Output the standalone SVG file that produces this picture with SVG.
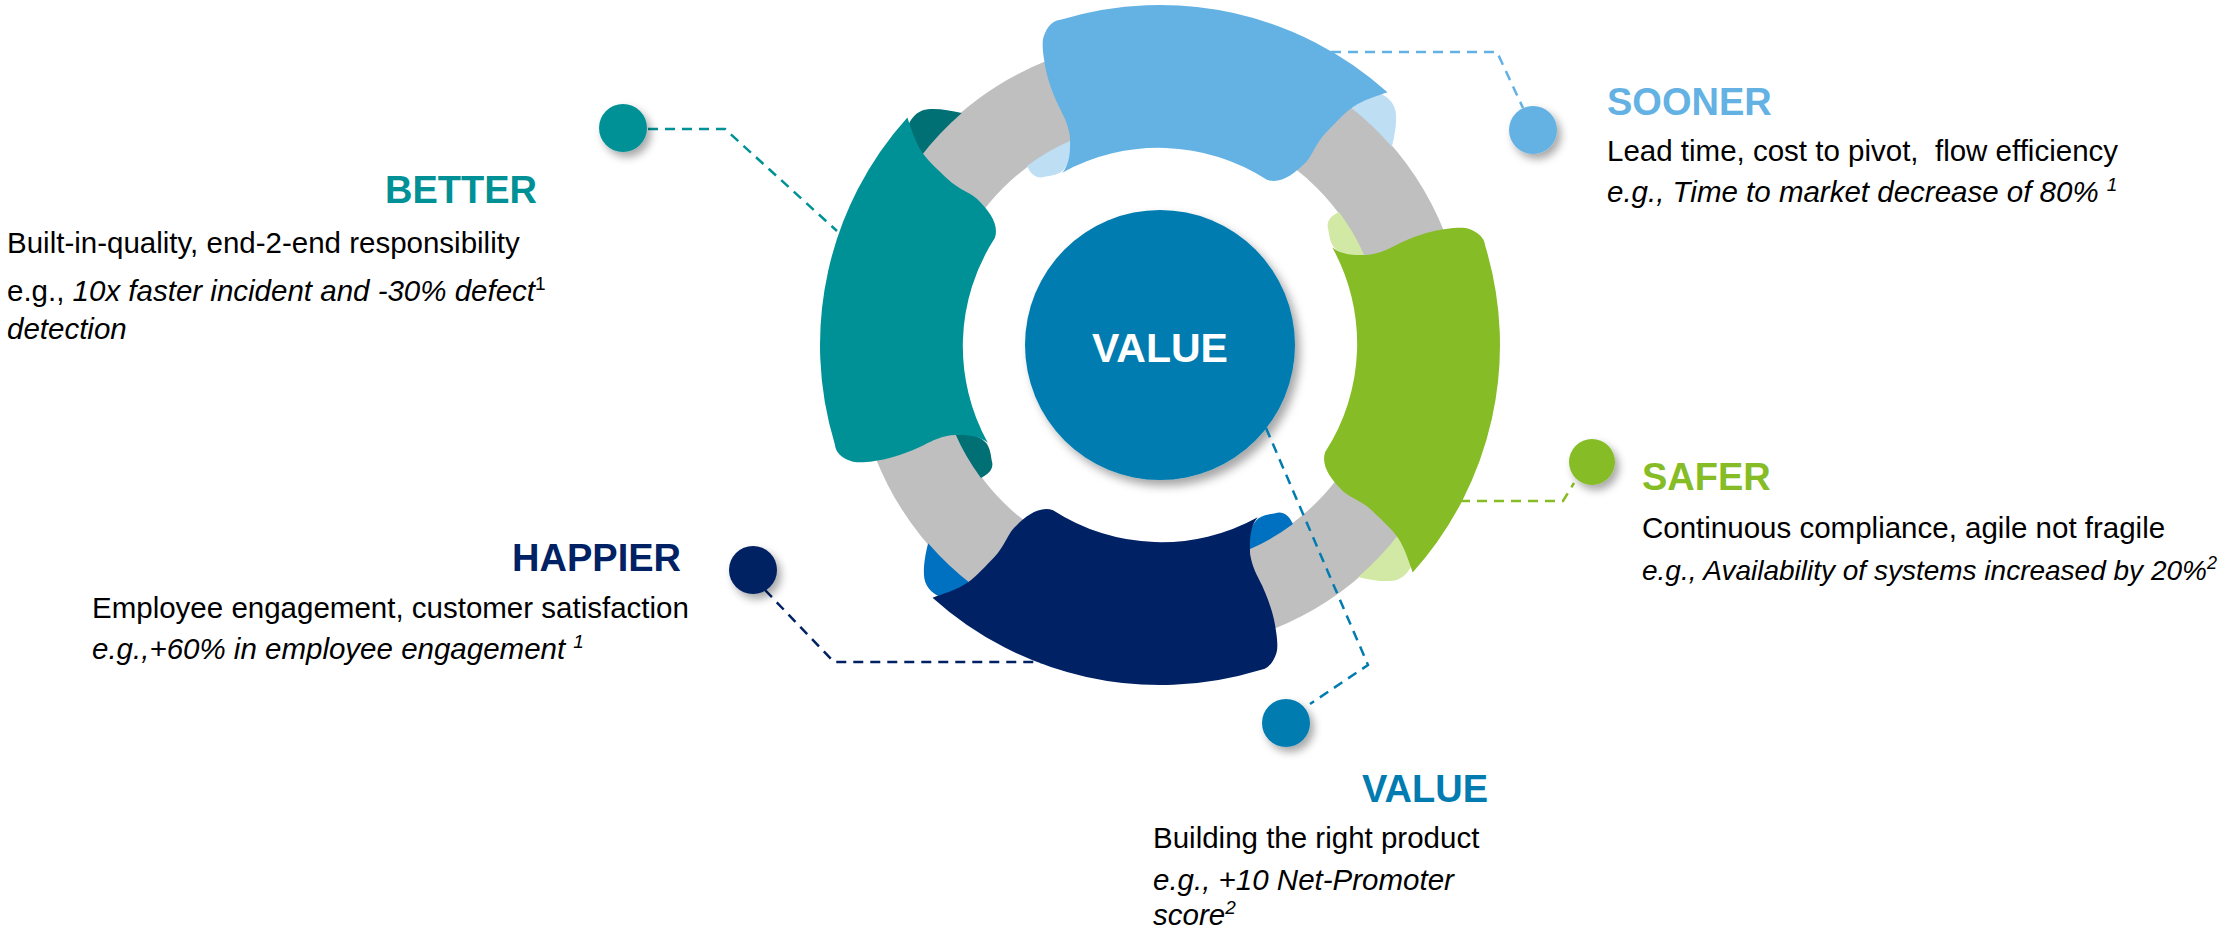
<svg xmlns="http://www.w3.org/2000/svg" width="2233" height="937" viewBox="0 0 2233 937">
<defs>
  <filter id="sh" x="-40%" y="-40%" width="190%" height="190%">
    <feDropShadow dx="4" dy="5" stdDeviation="4" flood-color="#000" flood-opacity="0.35"/>
  </filter>
  <filter id="shBig" x="-20%" y="-20%" width="145%" height="145%">
    <feDropShadow dx="5" dy="6" stdDeviation="5" flood-color="#000" flood-opacity="0.35"/>
  </filter>
  <path id="seg" d="M 310.6,-138.3 A 340 340 0 0 1 278.5,195 C 274,186 268,172 259.5,162.2 C 250,152 240,146 231.4,139.1 C 218,129 204,128 196,120 C 186,112 174,100 177,86 A 199 199 0 0 0 159,-118 C 168,-112 180,-112 196.9,-115 C 210,-119 216,-124 226,-130.5 C 245,-142 258,-147 269.1,-149.8 C 280,-153 288,-154 292,-153 C 302,-151 309,-146 310.6,-138.3 Z"/>
  <path id="lobeOut" d="M 261,157 C 270,162 276,170 277,180 C 278,190 272,200 264,204 C 256,208 240,208 225,206 A 305 305 0 0 0 261,157 Z"/>
  <path id="lobeIn" d="M 192.8,-112.3 A 223 223 0 0 0 161.5,-153.8 C 152,-148 150,-141 153,-135 C 155,-128 156,-124 160,-119 C 167,-112 178,-111 192.8,-112.3 Z"/>
</defs>
<style>
  text { font-family: "Liberation Sans", Arial, sans-serif; }
  .title { font-weight: bold; font-size: 38px; }
  .body { font-size: 29.5px; fill: #000; }
  .it { font-style: italic; }
  .conn { fill: none; stroke-width: 2.5; stroke-dasharray: 10 7; }
</style>
<rect width="2233" height="937" fill="#fff"/>

<g id="ring">
  <circle cx="1160" cy="345" r="264" fill="none" stroke="#BFBFBF" stroke-width="84"/>
</g>

<g id="seg-better" transform="translate(1160,345) rotate(187)">
  <use href="#lobeOut" fill="#007074"/>
  <use href="#lobeIn" fill="#007074"/>
  <use href="#seg" fill="#009196"/>
</g>
<g id="seg-sooner" transform="translate(1160,345) rotate(277)">
  <use href="#lobeOut" fill="#BEDEF4"/>
  <use href="#lobeIn" fill="#BEDEF4"/>
  <use href="#seg" fill="#63B2E3"/>
</g>
<g id="seg-safer" transform="translate(1160,345) rotate(7)">
  <use href="#lobeOut" fill="#D1E9A4"/>
  <use href="#lobeIn" fill="#D1E9A4"/>
  <use href="#seg" fill="#86BC25"/>
</g>
<g id="seg-happier" transform="translate(1160,345) rotate(97)">
  <use href="#lobeOut" fill="#0070C0"/>
  <use href="#lobeIn" fill="#0070C0"/>
  <use href="#seg" fill="#002164"/>
</g>

<g id="center-value">
  <circle cx="1160" cy="345" r="135" fill="#027CB0" filter="url(#shBig)"/>
  <text class="title" x="1160" y="362" text-anchor="middle" fill="#fff" style="font-size:41px">VALUE</text>
</g>

<g id="connectors">
  <polyline class="conn" stroke="#009196" points="648,129 725,129 837,231"/>
  <polyline class="conn" stroke="#63B2E3" points="1331,52 1497,52 1523,108"/>
  <polyline class="conn" stroke="#86BC25" points="1460,501 1563,501 1574,483"/>
  <polyline class="conn" stroke="#002164" points="765,590 834,662 1043,662"/>
  <polyline class="conn" stroke="#027CB0" points="1266,428 1368,665 1310,704"/>
</g>

<g id="label-better">
  <circle cx="623" cy="128" r="24" fill="#009196" filter="url(#sh)"/>
  <text class="title" x="537" y="203" text-anchor="end" fill="#009196">BETTER</text>
  <text class="body" x="7" y="253">Built-in-quality, end-2-end responsibility</text>
  <text class="body" x="7" y="301">e.g., <tspan class="it">10x faster incident and -30% defect</tspan><tspan font-size="19" dy="-11">1</tspan></text>
  <text class="body it" x="7" y="339">detection</text>
</g>

<g id="label-sooner">
  <circle cx="1533" cy="130" r="24" fill="#63B2E3" filter="url(#sh)"/>
  <text class="title" x="1607" y="115" fill="#63B2E3">SOONER</text>
  <text class="body" x="1607" y="161" xml:space="preserve">Lead time, cost to pivot,  flow efficiency</text>
  <text class="body it" x="1607" y="202">e.g., Time to market decrease of 80% <tspan font-size="19" dy="-11">1</tspan></text>
</g>

<g id="label-safer">
  <circle cx="1592" cy="462" r="23" fill="#86BC25" filter="url(#sh)"/>
  <text class="title" x="1642" y="490" fill="#86BC25">SAFER</text>
  <text class="body" x="1642" y="538">Continuous compliance, agile not fragile</text>
  <text class="body it" x="1642" y="580" style="font-size:28px">e.g., Availability of systems increased by 20%<tspan font-size="18" dy="-11">2</tspan></text>
</g>

<g id="label-happier">
  <circle cx="753" cy="570" r="24" fill="#002164" filter="url(#sh)"/>
  <text class="title" x="681" y="571" text-anchor="end" fill="#002164">HAPPIER</text>
  <text class="body" x="92" y="618">Employee engagement, customer satisfaction</text>
  <text class="body it" x="92" y="659">e.g.,+60% in employee engagement <tspan font-size="19" dy="-11">1</tspan></text>
</g>

<g id="label-value">
  <circle cx="1286" cy="723" r="24" fill="#027CB0" filter="url(#sh)"/>
  <text class="title" x="1488" y="802" text-anchor="end" fill="#027CB0">VALUE</text>
  <text class="body" x="1153" y="848">Building the right product</text>
  <text class="body it" x="1153" y="890">e.g., +10 Net-Promoter</text>
  <text class="body it" x="1153" y="925">score<tspan font-size="19" dy="-11">2</tspan></text>
</g>
</svg>
